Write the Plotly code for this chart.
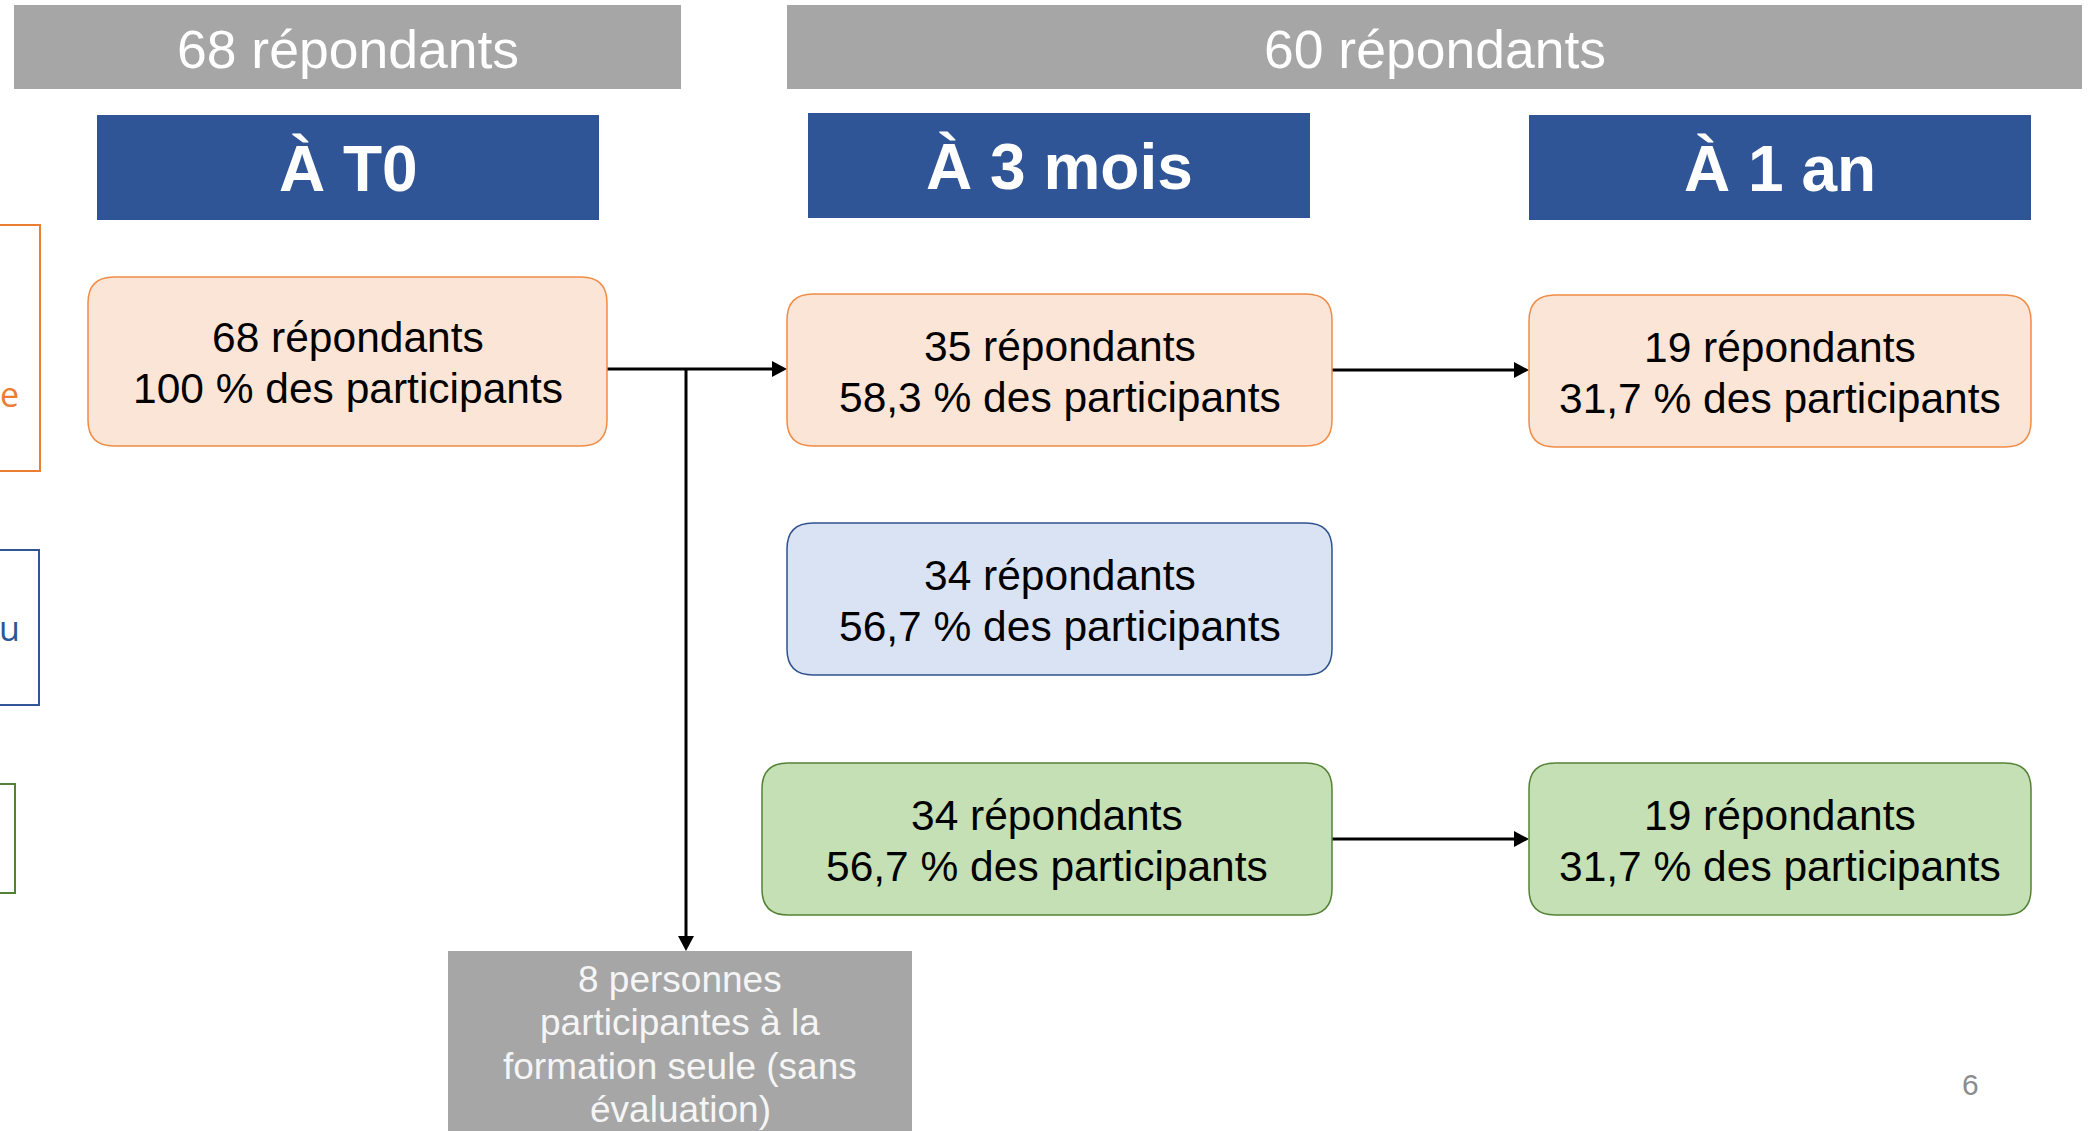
import plotly.graph_objects as go

# ---------------- data ----------------
group_labels = ["68 répondants", "60 répondants"]
time_points = ["À T0", "À 3 mois", "À 1 an"]
node_counts = [68, 35, 19, 34, 34, 19]
node_pcts = [100, 58.3, 31.7, 56.7, 56.7, 31.7]
node_kinds = ["orange", "orange", "orange", "blue", "green", "green"]
excluded_lines = ["8 personnes", "participantes à la", "formation seule (sans", "évaluation)"]
side_letters = ["e", "u"]
page_number = "6"

# ---------------- layout / styles ----------------
W, H = 2096, 1131
FONT = "Liberation Sans, Arial, sans-serif"
GRAY = "#a6a6a6"
NAVY = "#2f5597"
styles = {
    "orange": dict(fill="#fbe5d6", line="#f08c46"),
    "blue": dict(fill="#dae3f3", line="#2f528f"),
    "green": dict(fill="#c5e0b4", line="#548235"),
}
group_boxes = [(14, 5, 681, 89), (787, 5, 2082, 89)]
time_boxes = [(97, 115, 599, 220), (808, 113, 1310, 218), (1529, 115, 2031, 220)]
node_boxes = [
    (88, 277, 607, 446),
    (787, 294, 1332, 446),
    (1529, 295, 2031, 447),
    (787, 523, 1332, 675),
    (762, 763, 1332, 915),
    (1529, 763, 2031, 915),
]
excl_box = (448, 951, 912, 1140)
side_boxes = [(-10, 225, 40, 471, "#ed7d31"), (-10, 550, 39, 705, "#2f5597"), (-10, 784, 15, 893, "#548235")]
side_text_pos = [(21, 394, "#ed7d31"), (22, 628, "#2f5597")]

shapes = []
annotations = []


def rrect(x0, y0, x1, y1, r):
    return (f"M{x0 + r},{y0} L{x1 - r},{y0} Q{x1},{y0} {x1},{y0 + r} "
            f"L{x1},{y1 - r} Q{x1},{y1} {x1 - r},{y1} L{x0 + r},{y1} "
            f"Q{x0},{y1} {x0},{y1 - r} L{x0},{y0 + r} Q{x0},{y0} {x0 + r},{y0} Z")


def text(x, y, s, size, color, bold=False, xanchor="center"):
    annotations.append(dict(x=x, y=y, xref="x", yref="y", text=(f"<b>{s}</b>" if bold else s),
                            showarrow=False, xanchor=xanchor, yanchor="middle",
                            font=dict(family=FONT, size=size, color=color)))


def fmt_pct(v):
    return f"{v:g}".replace(".", ",") + " % des participants"


# group header bars
for (x0, y0, x1, y1), lab in zip(group_boxes, group_labels):
    shapes.append(dict(type="rect", x0=x0, y0=y0, x1=x1, y1=y1, fillcolor=GRAY, line=dict(width=0), layer="below"))
    text((x0 + x1) / 2, (y0 + y1) / 2 + 2, lab, 53.5, "white")

# time point headers
for (x0, y0, x1, y1), lab in zip(time_boxes, time_points):
    shapes.append(dict(type="rect", x0=x0, y0=y0, x1=x1, y1=y1, fillcolor=NAVY, line=dict(width=0), layer="below"))
    text((x0 + x1) / 2, (y0 + y1) / 2 + 1, lab, 64, "white", bold=True)

# arrows (drawn before boxes)
LW = 3


def hline(x0, x1, y):
    shapes.append(dict(type="line", x0=x0, x1=x1, y0=y, y1=y, line=dict(color="black", width=LW)))


def arrow_right(xt, y):
    shapes.append(dict(type="path", path=f"M{xt},{y} L{xt - 15},{y - 8} L{xt - 15},{y + 8} Z",
                       fillcolor="black", line=dict(width=0)))


def arrow_down(x, yt):
    shapes.append(dict(type="path", path=f"M{x},{yt} L{x - 8},{yt - 15} L{x + 8},{yt - 15} Z",
                       fillcolor="black", line=dict(width=0)))


b0, b1, b2, b3, b4, b5 = node_boxes
hline(b0[2], b1[0] - 12, 369)
arrow_right(b1[0], 369)
hline(b1[2], b2[0] - 12, 370)
arrow_right(b2[0], 370)
hline(b4[2], b5[0] - 12, 839)
arrow_right(b5[0], 839)
shapes.append(dict(type="line", x0=686, x1=686, y0=369, y1=excl_box[1] - 12, line=dict(color="black", width=LW)))
arrow_down(686, excl_box[1])

# nodes
for (x0, y0, x1, y1), n, p, k in zip(node_boxes, node_counts, node_pcts, node_kinds):
    st = styles[k]
    shapes.append(dict(type="path", path=rrect(x0, y0, x1, y1, 26), fillcolor=st["fill"],
                       line=dict(color=st["line"], width=1.5)))
    cx, cy = (x0 + x1) / 2, (y0 + y1) / 2
    text(cx, cy - 24, f"{n} répondants", 42.5, "black")
    text(cx, cy + 27, fmt_pct(p), 42.5, "black")

# excluded box
x0, y0, x1, y1 = excl_box
shapes.append(dict(type="rect", x0=x0, y0=y0, x1=x1, y1=y1, fillcolor=GRAY, line=dict(width=0)))
for i, s in enumerate(excluded_lines):
    text((x0 + x1) / 2, 979 + i * 43.5, s, 37, "#f5f5f5")

# partially visible side boxes
for (sx0, sy0, sx1, sy1, col) in side_boxes:
    shapes.append(dict(type="rect", x0=sx0, y0=sy0, x1=sx1, y1=sy1, fillcolor="rgba(0,0,0,0)",
                       line=dict(color=col, width=2)))
for (tx, ty, col), s in zip(side_text_pos, side_letters):
    annotations.append(dict(x=tx, y=ty, xref="x", yref="y", text=s, showarrow=False, xanchor="right",
                            yanchor="middle", font=dict(family="Open Sans, sans-serif", size=34, color=col)))

# page number
text(1970, 1084, page_number, 30, "#8c8c8c")

fig = go.Figure()
fig.add_trace(go.Scatter(x=[0, W], y=[0, H], mode="markers", marker=dict(opacity=0), hoverinfo="skip",
                         showlegend=False))
fig.update_layout(
    width=W, height=H, margin=dict(l=0, r=0, t=0, b=0),
    paper_bgcolor="white", plot_bgcolor="white",
    xaxis=dict(range=[0, W], visible=False, fixedrange=True),
    yaxis=dict(range=[H, 0], visible=False, fixedrange=True),
    shapes=shapes, annotations=annotations, showlegend=False,
)
fig.write_html("out.html", config={"displayModeBar": False},
               post_script="document.body.style.margin='0';document.body.style.overflow='hidden';")
